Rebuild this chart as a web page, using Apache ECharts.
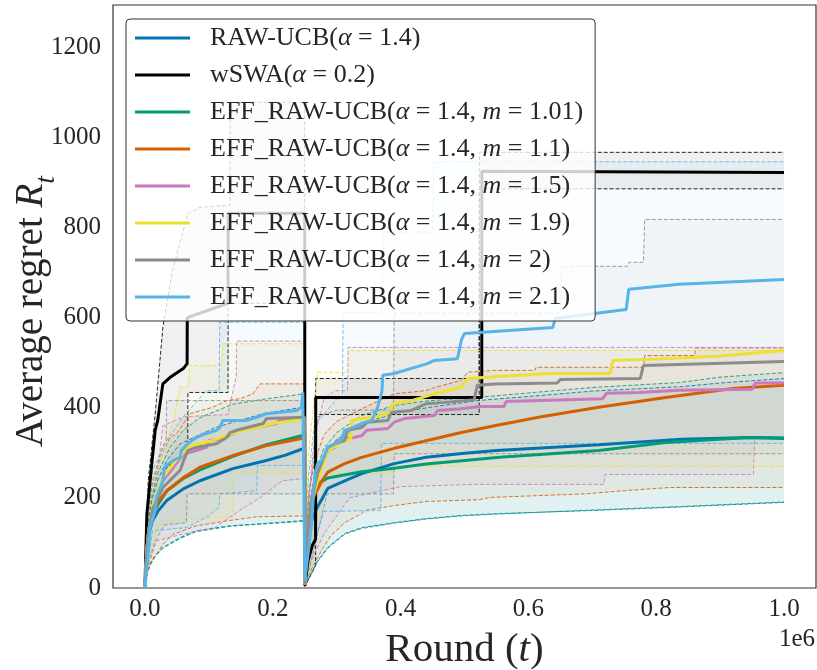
<!DOCTYPE html>
<html>
<head>
<meta charset="utf-8">
<script src="https://cdn.jsdelivr.net/npm/echarts@6/dist/echarts.min.js"></script>
<style>
html,body{margin:0;padding:0;background:#fff;}
#chart{width:817px;height:670px;}
</style>
</head>
<body>
<div id="chart"></div>
<script>
// ---------- data (t in units of 1e6 rounds) ----------
const xTicks = [0.0, 0.2, 0.4, 0.6, 0.8, 1.0];
const yTicks = [0, 200, 400, 600, 800, 1000, 1200];
const names = [
  'RAW-UCB(α = 1.4)',
  'wSWA(α = 0.2)',
  'EFF_RAW-UCB(α = 1.4, m = 1.01)',
  'EFF_RAW-UCB(α = 1.4, m = 1.1)',
  'EFF_RAW-UCB(α = 1.4, m = 1.5)',
  'EFF_RAW-UCB(α = 1.4, m = 1.9)',
  'EFF_RAW-UCB(α = 1.4, m = 2)',
  'EFF_RAW-UCB(α = 1.4, m = 2.1)'
];

// RAW-UCB
const rawMean = [[0,0],[0.003,90],[0.006,120],[0.012,150],[0.02,170],[0.034,194],[0.06,220],[0.086,238],[0.1375,265],[0.19,283],[0.22,295],[0.245,308],[0.25,310],[0.2502,8],[0.252,70],[0.256,120],[0.262,155],[0.27,180],[0.286,221],[0.3125,238],[0.339,254],[0.39,276],[0.44,290],[0.5,299],[0.55,305],[0.71,318],[0.84,330],[0.95,334],[1.0,333]];
const rawHi = [[0,0],[0.004,130],[0.01,190],[0.02,240],[0.035,285],[0.055,320],[0.09,343],[0.11,356],[0.148,372],[0.185,387],[0.25,402],[0.2502,10],[0.253,100],[0.256,160],[0.265,230],[0.28,290],[0.3,330],[0.35,370],[0.4,390],[0.45,402],[0.52,416],[0.6,425],[0.7,437],[0.84,447],[0.9,455],[1.0,465]];
const rawLo = [[0,0],[0.003,30],[0.008,54],[0.015,70],[0.028,90],[0.055,112],[0.08,127],[0.133,138],[0.185,143],[0.25,150],[0.2502,5],[0.26,32],[0.27,60],[0.286,90],[0.3125,121],[0.339,134],[0.39,145],[0.44,154],[0.495,161],[0.55,165],[0.7,172],[0.84,180],[1.0,190]];

// wSWA
const wswaMean = [[0,0],[0.001,60],[0.003,164],[0.008,238],[0.016,350],[0.02,372],[0.028,453],[0.039,467],[0.06,487],[0.066,498],[0.0662,600],[0.09,612],[0.13,632],[0.1302,832],[0.25,832],[0.2502,5],[0.255,60],[0.262,95],[0.267,108],[0.2672,423],[0.527,423],[0.5272,925],[1.0,922]];
const wswaHi = [[0,0],[0.002,30],[0.005,238],[0.016,386],[0.028,578],[0.042,698],[0.067,831],[0.086,845],[0.133,850],[0.1332,1078],[0.25,1078],[0.2502,10],[0.255,100],[0.265,200],[0.2672,465],[0.523,465],[0.5232,967],[1.0,967]];
const wswaLo = [[0,0],[0.005,100],[0.015,190],[0.03,260],[0.055,295],[0.067,305],[0.0672,434],[0.13,434],[0.1302,632],[0.25,632],[0.2502,3],[0.26,30],[0.267,50],[0.2672,385],[0.523,385],[0.5232,886],[1.0,886]];

// EFF m=1.01
const m101Mean = [[0,0],[0.003,85],[0.006,125],[0.012,160],[0.02,185],[0.034,215],[0.06,243],[0.086,262],[0.1375,292],[0.19,318],[0.245,338],[0.25,340],[0.2502,8],[0.252,80],[0.256,140],[0.261,185],[0.266,222],[0.275,235],[0.286,244],[0.339,258],[0.39,266],[0.44,275],[0.5,283],[0.555,290],[0.71,305],[0.815,323],[0.945,334],[1.0,332]];
const m101Hi = [[0,0],[0.004,130],[0.01,200],[0.02,255],[0.039,312],[0.06,350],[0.086,378],[0.1375,408],[0.19,420],[0.25,431],[0.2502,10],[0.253,110],[0.257,180],[0.265,250],[0.28,310],[0.3,345],[0.339,383],[0.39,405],[0.44,415],[0.52,423],[0.6,433],[0.7,445],[0.836,456],[0.9,468],[1.0,478]];
const m101Lo = [[0,0],[0.003,28],[0.008,52],[0.015,68],[0.028,88],[0.055,110],[0.08,125],[0.133,137],[0.185,142],[0.25,148],[0.2502,5],[0.26,30],[0.27,58],[0.286,88],[0.3125,119],[0.339,132],[0.39,144],[0.44,153],[0.495,160],[0.55,164],[0.7,173],[0.84,181],[1.0,191]];

// EFF m=1.1
const m11Mean = [[0,0],[0.003,90],[0.006,130],[0.012,165],[0.02,190],[0.034,216],[0.06,245],[0.086,268],[0.1375,294],[0.19,316],[0.245,332],[0.25,334],[0.2502,8],[0.253,110],[0.257,160],[0.261,194],[0.277,238],[0.286,257],[0.3125,276],[0.339,290],[0.39,310],[0.44,327],[0.495,345],[0.547,360],[0.62,380],[0.71,401],[0.815,423],[0.92,443],[1.0,450]];
const m11Hi = [[0,0],[0.004,150],[0.01,220],[0.02,270],[0.028,300],[0.039,334],[0.05,343],[0.06,365],[0.07,387],[0.106,401],[0.128,416],[0.148,420],[0.169,431],[0.18,453],[0.25,453],[0.2502,10],[0.254,150],[0.258,220],[0.265,280],[0.28,340],[0.3,370],[0.35,405],[0.39,431],[0.44,438],[0.453,445],[0.495,461],[0.505,479],[0.547,483],[0.61,483],[0.612,490],[0.78,490],[0.782,516],[0.86,516],[0.862,533],[1.0,533]];
const m11Lo = [[0,0],[0.004,35],[0.01,55],[0.018,75],[0.028,97],[0.044,119],[0.065,130],[0.08,138],[0.133,150],[0.175,158],[0.25,160],[0.2502,5],[0.26,40],[0.275,80],[0.29,115],[0.3125,145],[0.339,165],[0.344,172],[0.39,183],[0.44,192],[0.523,196],[0.54,201],[0.69,209],[0.75,216],[0.82,223],[1.0,223]];

// EFF m=1.5
const m15Mean = [[0,0],[0.003,80],[0.006,120],[0.012,170],[0.02,210],[0.028,238],[0.044,267],[0.06,297],[0.08,305],[0.096,312],[0.1,327],[0.122,332],[0.138,343],[0.148,350],[0.206,365],[0.21,372],[0.25,376],[0.2502,8],[0.252,80],[0.258,170],[0.265,230],[0.275,270],[0.286,305],[0.297,312],[0.302,327],[0.32,332],[0.339,338],[0.347,350],[0.38,354],[0.39,368],[0.406,376],[0.453,383],[0.458,394],[0.495,398],[0.523,403],[0.562,403],[0.565,414],[0.716,420],[0.722,432],[0.773,434],[0.836,439],[0.95,441],[0.955,455],[1.0,455]];
const m15Hi = [[0,0],[0.004,150],[0.01,220],[0.02,260],[0.028,360],[0.06,380],[0.13,385],[0.135,420],[0.143,470],[0.1435,548],[0.25,548],[0.2502,10],[0.256,200],[0.265,330],[0.28,420],[0.297,438],[0.317,438],[0.318,534],[1.0,534]];
const m15Lo = [[0,0],[0.004,40],[0.01,70],[0.018,105],[0.06,120],[0.11,134],[0.148,172],[0.18,200],[0.215,238],[0.25,243],[0.2502,5],[0.26,60],[0.28,120],[0.3,160],[0.32,200],[0.4,225],[0.52,230],[0.718,230],[0.72,252],[0.952,252],[0.954,332],[1.0,332]];

// EFF m=1.9
const m19Mean = [[0,0],[0.003,85],[0.006,130],[0.012,180],[0.02,215],[0.028,245],[0.044,275],[0.06,300],[0.07,315],[0.1,325],[0.14,345],[0.2,365],[0.25,375],[0.2502,8],[0.253,100],[0.26,190],[0.277,268],[0.286,305],[0.3125,327],[0.322,330],[0.323,372],[0.339,376],[0.36,379],[0.385,390],[0.387,409],[0.417,416],[0.453,431],[0.495,445],[0.505,465],[0.547,469],[0.63,476],[0.728,476],[0.732,505],[0.8,508],[0.9,515],[1.0,527]];
const m19Hi = [[0,0],[0.004,150],[0.012,230],[0.028,300],[0.045,370],[0.055,446],[0.068,446],[0.07,494],[0.12,494],[0.122,542],[0.25,542],[0.2502,10],[0.256,300],[0.265,420],[0.27,479],[0.317,479],[0.318,527],[0.995,527],[1.0,538]];
const m19Lo = [[0,0],[0.004,40],[0.01,80],[0.02,134],[0.039,150],[0.117,156],[0.137,156],[0.138,254],[0.25,254],[0.2502,5],[0.26,60],[0.27,150],[0.285,254],[0.39,254],[0.392,270],[1.0,270]];

// EFF m=2
const m2Mean = [[0,0],[0.003,85],[0.006,130],[0.012,175],[0.02,200],[0.028,223],[0.055,261],[0.0625,290],[0.067,305],[0.08,312],[0.112,320],[0.128,334],[0.133,345],[0.143,350],[0.185,365],[0.19,376],[0.25,379],[0.2502,8],[0.253,100],[0.26,190],[0.27,254],[0.286,312],[0.297,320],[0.3125,327],[0.317,350],[0.339,356],[0.348,368],[0.38,372],[0.386,390],[0.417,394],[0.44,409],[0.47,412],[0.515,418],[0.52,450],[0.547,453],[0.645,455],[0.65,463],[0.775,465],[0.78,494],[1.0,503]];
const m2Hi = [[0,0],[0.004,150],[0.012,240],[0.025,300],[0.033,330],[0.034,416],[0.25,416],[0.2502,10],[0.256,200],[0.265,300],[0.27,380],[0.3,395],[0.389,395],[0.39,610],[0.65,610],[0.652,714],[0.755,714],[0.757,723],[0.78,723],[0.782,818],[1.0,818]];
const m2Lo = [[0,0],[0.004,50],[0.015,100],[0.03,140],[0.065,145],[0.066,209],[0.25,209],[0.2502,5],[0.26,60],[0.275,150],[0.285,209],[0.389,209],[0.39,298],[1.0,298]];

// EFF m=2.1
const m21Mean = [[0,0],[0.005,76],[0.008,134],[0.016,172],[0.018,201],[0.028,238],[0.031,268],[0.044,283],[0.055,290],[0.057,305],[0.067,320],[0.08,334],[0.096,343],[0.112,350],[0.117,356],[0.122,372],[0.159,372],[0.175,379],[0.19,387],[0.237,394],[0.245,401],[0.247,434],[0.25,438],[0.2502,16],[0.26,134],[0.266,254],[0.27,276],[0.277,283],[0.286,312],[0.307,327],[0.3125,350],[0.325,356],[0.339,365],[0.355,372],[0.364,401],[0.371,438],[0.372,472],[0.39,476],[0.442,498],[0.453,505],[0.489,509],[0.495,550],[0.5,565],[0.523,567],[0.638,578],[0.642,598],[0.753,618],[0.757,663],[0.836,674],[1.0,685]];
const m21Hi = [[0,0],[0.004,170],[0.012,260],[0.03,320],[0.06,380],[0.096,438],[0.116,438],[0.117,590],[0.25,590],[0.2502,10],[0.256,250],[0.265,360],[0.3,420],[0.309,420],[0.31,612],[0.37,612],[0.372,790],[0.45,790],[0.452,946],[1.0,946]];
const m21Lo = [[0,0],[0.004,60],[0.008,90],[0.012,127],[0.065,134],[0.1,160],[0.116,180],[0.117,209],[0.175,216],[0.176,272],[0.25,272],[0.2502,5],[0.26,80],[0.28,170],[0.369,172],[0.37,321],[1.0,321]];

const means = [rawMean, wswaMean, m101Mean, m11Mean, m15Mean, m19Mean, m2Mean, m21Mean];
const highs = [rawHi, wswaHi, m101Hi, m11Hi, m15Hi, m19Hi, m2Hi, m21Hi];
const lows  = [rawLo, wswaLo, m101Lo, m11Lo, m15Lo, m19Lo, m2Lo, m21Lo];

// ---------- styling ----------
const palette = ['#0173B2', '#000000', '#029E73', '#D55E00', '#CC78BC', '#ECE133', '#8C8C8C', '#56B4E9'];
const FONT = 'Liberation Serif';
const TXT = '#262626';

const chart = echarts.init(document.getElementById('chart'), null, {renderer: 'canvas'});

const series = [];
// bands
names.forEach((n, k) => {
  const hi = highs[k], lo = lows[k];
  series.push({
    type: 'custom', name: n + ' band', z: 1, silent: true, clip: true,
    data: [[0, 0]],
    renderItem: function (params, api) {
      const pts = hi.map(p => api.coord(p)).concat(lo.slice().reverse().map(p => api.coord(p)));
      return {type: 'polygon', shape: {points: pts}, style: {fill: palette[k], opacity: 0.06}};
    }
  });
});
// dashed bounds
names.forEach((n, k) => {
  [highs[k], lows[k]].forEach((arr, j) => {
    series.push({
      type: 'line', name: n + (j ? ' lo' : ' hi'), data: arr, z: 2, silent: true,
      showSymbol: false, symbol: 'none', animation: false,
      lineStyle: {color: palette[k], width: 1, type: [4, 2], opacity: 0.85}
    });
  });
});
// means
names.forEach((n, k) => {
  series.push({
    type: 'line', name: n, data: means[k], z: 3, showSymbol: false, symbol: 'none',
    itemStyle: {color: palette[k]},
    lineStyle: {color: palette[k], width: 3}
  });
});

const option = {
  animation: false,
  backgroundColor: '#fff',
  grid: {left: 113, right: 1, top: 5, bottom: 82, containLabel: false, outerBoundsMode: 'none',
    show: true, borderColor: '#333', borderWidth: 1.2, backgroundColor: 'transparent'},
  xAxis: {
    type: 'value', min: -0.05, max: 1.05,
    axisLine: {show: false}, axisTick: {show: false}, splitLine: {show: false},
    axisLabel: {customValues: xTicks, formatter: v => v.toFixed(1), fontFamily: FONT, fontSize: 25, color: TXT, margin: 9},
    name: '{n|Round (}{i|t}{n|)}', nameLocation: 'middle', nameGap: 42, nameMoveOverlap: false,
    nameTextStyle: {rich: {
      n: {fontFamily: FONT, fontSize: 41, color: TXT},
      i: {fontFamily: FONT, fontSize: 41, fontStyle: 'italic', color: TXT}
    }}
  },
  yAxis: {
    type: 'value', min: 0, max: 1294,
    axisLine: {show: false}, axisTick: {show: false}, splitLine: {show: false},
    axisLabel: {customValues: yTicks, formatter: v => String(v), fontFamily: FONT, fontSize: 25, color: TXT, margin: 12},
    name: '{n|Average regret }{i|R}{s|t}', nameLocation: 'middle', nameRotate: 90, nameGap: 59, nameMoveOverlap: false,
    nameTextStyle: {padding: [0, 30, 0, 0], rich: {
      n: {fontFamily: FONT, fontSize: 39, color: TXT, lineHeight: 42, verticalAlign: 'top'},
      i: {fontFamily: FONT, fontSize: 39, fontStyle: 'italic', color: TXT, lineHeight: 42, verticalAlign: 'top'},
      s: {fontFamily: FONT, fontSize: 28, fontStyle: 'italic', color: TXT, lineHeight: 28, padding: [21, 0, 0, 0], verticalAlign: 'top'}
    }}
  },
  legend: {
    data: names, orient: 'vertical', left: 126, top: 19, icon: 'rect',
    itemWidth: 55, itemHeight: 3, itemGap: 9, selectedMode: false,
    padding: [5, 12, 10, 9],
    backgroundColor: 'rgba(255,255,255,0.8)', borderColor: '#333', borderWidth: 1, borderRadius: 4,
    formatter: n => n.replace('α', '{i|α}').replace('m =', '{i|m} ='),
    textStyle: {fontFamily: FONT, fontSize: 26, color: TXT, lineHeight: 28, padding: [0, 0, 0, 15],
      rich: {i: {fontFamily: FONT, fontSize: 26, fontStyle: 'italic', color: TXT, lineHeight: 28}}}
  },
  graphic: [{type: 'text', right: 2, top: 627, style: {text: '1e6', fontFamily: FONT, fontSize: 25, fill: TXT}}],
  series: series
};
chart.setOption(option);
</script>
</body>
</html>
